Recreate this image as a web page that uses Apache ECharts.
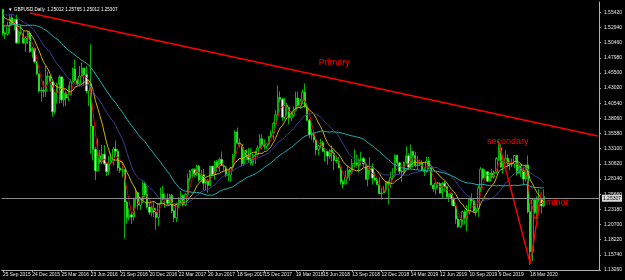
<!DOCTYPE html>
<html>
<head>
<meta charset="utf-8">
<script src="https://cdn.jsdelivr.net/npm/echarts@6/dist/echarts.min.js"></script>
<style>html,body{margin:0;padding:0;background:#000;}#c{width:625px;height:280px;}</style>
</head>
<body>
<div id="c"></div>
<script>
// Weekly GBPUSD bars (week 0 = week of 21 Sep 2015)
const opens = [1.5590,1.5195,1.5185,1.5325,1.5455,1.5345,1.5425,1.5045,1.5225,1.5190,1.5040,1.5125,1.5205,1.4900,1.4950,1.4735,1.4535,1.4255,1.4265,1.4250,1.4500,1.4495,1.4400,1.3915,1.4225,1.4365,1.4485,1.4110,1.4215,1.4140,1.4195,1.4405,1.4615,1.4430,1.4370,1.4500,1.4630,1.4525,1.4255,1.4370,1.3680,1.3300,1.2950,1.3195,1.3095,1.3220,1.3065,1.2935,1.3080,1.3120,1.3305,1.3270,1.2995,1.2960,1.2970,1.2435,1.2185,1.2230,1.2195,1.2485,1.2590,1.2385,1.2475,1.2745,1.2560,1.2355,1.2270,1.2340,1.2275,1.2185,1.2410,1.2570,1.2485,1.2485,1.2410,1.2545,1.2295,1.2180,1.2395,1.2475,1.2545,1.2395,1.2565,1.2825,1.2945,1.2970,1.2885,1.3025,1.2800,1.2885,1.2745,1.2785,1.2710,1.3025,1.2885,1.3095,1.2995,1.3135,1.3035,1.3015,1.2875,1.2880,1.3000,1.3200,1.3585,1.3405,1.3380,1.3065,1.3285,1.3195,1.3135,1.3080,1.3190,1.3210,1.3325,1.3475,1.3380,1.3350,1.3390,1.3515,1.3565,1.3725,1.3865,1.4150,1.4120,1.3825,1.4020,1.3990,1.3815,1.3860,1.3930,1.4140,1.4015,1.4095,1.4235,1.4010,1.3775,1.3540,1.3535,1.3455,1.3295,1.3360,1.3410,1.3265,1.3265,1.3190,1.3285,1.3235,1.3120,1.3110,1.3000,1.2765,1.2735,1.2840,1.2960,1.2925,1.3070,1.3075,1.3030,1.3125,1.3150,1.3060,1.2810,1.2965,1.2985,1.2830,1.2800,1.2725,1.2575,1.2585,1.2630,1.2765,1.2740,1.2835,1.2875,1.3200,1.3080,1.2940,1.2935,1.3085,1.3195,1.3010,1.3265,1.3200,1.3035,1.3045,1.3075,1.2970,1.2940,1.3110,1.3005,1.2715,1.2655,1.2745,1.2740,1.2585,1.2745,1.2690,1.2525,1.2575,1.2495,1.2375,1.2160,1.2035,1.2145,1.2280,1.2160,1.2290,1.2480,1.2465,1.2290,1.2330,1.2670,1.2975,1.2830,1.2935,1.2780,1.2910,1.2845,1.2930,1.3150,1.3325,1.3010,1.3075,1.3155,1.3055,1.3075,1.3060,1.3200,1.2910,1.3045,1.2955,1.2815,1.3045,1.2280,1.1625,1.2475,1.2270,1.2505,1.2475,1.2375];
const closes = [1.5195,1.5185,1.5325,1.5455,1.5345,1.5425,1.5045,1.5225,1.5190,1.5040,1.5125,1.5205,1.4900,1.4950,1.4735,1.4535,1.4255,1.4265,1.4250,1.4500,1.4495,1.4400,1.3915,1.4225,1.4365,1.4485,1.4110,1.4215,1.4140,1.4195,1.4405,1.4615,1.4430,1.4370,1.4500,1.4630,1.4525,1.4255,1.4370,1.3680,1.3300,1.2950,1.3195,1.3095,1.3220,1.3065,1.2935,1.3080,1.3120,1.3305,1.3270,1.2995,1.2960,1.2970,1.2435,1.2185,1.2230,1.2195,1.2485,1.2590,1.2385,1.2475,1.2745,1.2560,1.2355,1.2270,1.2340,1.2275,1.2185,1.2410,1.2570,1.2485,1.2485,1.2410,1.2545,1.2295,1.2180,1.2395,1.2475,1.2545,1.2395,1.2565,1.2825,1.2945,1.2970,1.2885,1.3025,1.2800,1.2885,1.2745,1.2785,1.2710,1.3025,1.2885,1.3095,1.2995,1.3135,1.3035,1.3015,1.2875,1.2880,1.3000,1.3200,1.3585,1.3405,1.3380,1.3065,1.3285,1.3195,1.3135,1.3080,1.3190,1.3210,1.3325,1.3475,1.3380,1.3350,1.3390,1.3515,1.3565,1.3725,1.3865,1.4150,1.4120,1.3825,1.4020,1.3990,1.3815,1.3860,1.3930,1.4140,1.4015,1.4095,1.4235,1.4010,1.3775,1.3540,1.3535,1.3455,1.3295,1.3360,1.3410,1.3265,1.3265,1.3190,1.3285,1.3235,1.3120,1.3110,1.3000,1.2765,1.2735,1.2840,1.2960,1.2925,1.3070,1.3075,1.3030,1.3125,1.3150,1.3060,1.2810,1.2965,1.2985,1.2830,1.2800,1.2725,1.2575,1.2585,1.2630,1.2765,1.2740,1.2835,1.2875,1.3200,1.3080,1.2940,1.2935,1.3085,1.3195,1.3010,1.3265,1.3200,1.3035,1.3045,1.3075,1.2970,1.2940,1.3110,1.3005,1.2715,1.2655,1.2745,1.2740,1.2585,1.2745,1.2690,1.2525,1.2575,1.2495,1.2375,1.2160,1.2035,1.2145,1.2280,1.2160,1.2290,1.2480,1.2465,1.2290,1.2330,1.2670,1.2975,1.2830,1.2935,1.2780,1.2910,1.2845,1.2930,1.3150,1.3325,1.3010,1.3075,1.3155,1.3055,1.3075,1.3060,1.3200,1.2910,1.3045,1.2955,1.2815,1.3045,1.2280,1.1625,1.2475,1.2270,1.2505,1.2475,1.2375,1.2531];
const lows = [1.5160,1.5107,1.5160,1.5185,1.5330,1.5245,1.5025,1.5025,1.5175,1.5025,1.4895,1.5020,1.4880,1.4800,1.4705,1.4520,1.4230,1.4080,1.4150,1.4160,1.4350,1.4245,1.3835,1.3880,1.4055,1.4050,1.4060,1.4000,1.4005,1.4090,1.4185,1.4375,1.4405,1.4330,1.4330,1.4475,1.4350,1.4215,1.4010,1.3230,1.3120,1.2800,1.2935,1.3060,1.3055,1.3045,1.2865,1.2885,1.3060,1.3035,1.3185,1.2945,1.2915,1.2850,1.1840,1.2085,1.2140,1.2080,1.2130,1.2340,1.2315,1.2305,1.2420,1.2510,1.2330,1.2225,1.2200,1.2195,1.1985,1.2050,1.2395,1.2465,1.2345,1.2385,1.2375,1.2255,1.2110,1.2110,1.2340,1.2375,1.2365,1.2370,1.2510,1.2775,1.2845,1.2840,1.2860,1.2770,1.2770,1.2635,1.2635,1.2590,1.2695,1.2870,1.2810,1.2930,1.2935,1.3030,1.2955,1.2845,1.2775,1.2775,1.2950,1.3125,1.3385,1.3340,1.3025,1.3030,1.3120,1.3075,1.3040,1.3040,1.3060,1.3180,1.3315,1.3300,1.3300,1.3305,1.3365,1.3485,1.3460,1.3700,1.3850,1.4065,1.3765,1.3795,1.3855,1.3710,1.3765,1.3830,1.3920,1.4000,1.3965,1.4035,1.3975,1.3765,1.3485,1.3460,1.3410,1.3205,1.3205,1.3315,1.3255,1.3100,1.3050,1.3145,1.3105,1.2955,1.3075,1.2990,1.2725,1.2660,1.2725,1.2805,1.2785,1.2890,1.3010,1.3000,1.2920,1.3040,1.3015,1.2800,1.2695,1.2880,1.2725,1.2770,1.2715,1.2565,1.2475,1.2580,1.2605,1.2400,1.2670,1.2800,1.2850,1.3045,1.2895,1.2770,1.2875,1.3060,1.2960,1.2980,1.3005,1.3005,1.2975,1.3025,1.2960,1.2865,1.2920,1.2975,1.2705,1.2605,1.2560,1.2660,1.2575,1.2505,1.2610,1.2505,1.2440,1.2380,1.2370,1.2080,1.2015,1.2015,1.2065,1.2070,1.1960,1.2235,1.2410,1.2270,1.2205,1.2195,1.2600,1.2800,1.2825,1.2770,1.2770,1.2820,1.2820,1.2895,1.3110,1.2995,1.2905,1.3070,1.3010,1.2955,1.3010,1.2990,1.2870,1.2905,1.2850,1.2725,1.2775,1.2250,1.1409,1.1475,1.2245,1.2165,1.2440,1.2250,1.2350];
const highs = [1.5600,1.5230,1.5385,1.5510,1.5510,1.5440,1.5505,1.5245,1.5335,1.5245,1.5150,1.5240,1.5240,1.4975,1.4965,1.4745,1.4540,1.4315,1.4425,1.4665,1.4570,1.4510,1.4410,1.4245,1.4390,1.4515,1.4495,1.4460,1.4245,1.4345,1.4445,1.4640,1.4770,1.4470,1.4665,1.4720,1.4630,1.4660,1.4395,1.5020,1.3535,1.3335,1.3480,1.3290,1.3370,1.3370,1.3070,1.3190,1.3240,1.3340,1.3445,1.3305,1.3095,1.3060,1.2970,1.2460,1.2335,1.2280,1.2510,1.2670,1.2600,1.2515,1.2775,1.2775,1.2705,1.2420,1.2370,1.2435,1.2345,1.2415,1.2675,1.2705,1.2580,1.2580,1.2570,1.2570,1.2320,1.2430,1.2520,1.2615,1.2565,1.2590,1.2905,1.2965,1.2990,1.2990,1.3050,1.3045,1.2965,1.2980,1.2815,1.2815,1.3030,1.3030,1.3115,1.3125,1.3165,1.3265,1.3060,1.3030,1.2945,1.3015,1.3225,1.3615,1.3655,1.3480,1.3390,1.3340,1.3300,1.3320,1.3320,1.3225,1.3280,1.3365,1.3550,1.3545,1.3460,1.3405,1.3520,1.3610,1.3745,1.3945,1.4345,1.4250,1.4140,1.4145,1.4060,1.4000,1.3920,1.4005,1.4245,1.4245,1.4125,1.4280,1.4377,1.4055,1.3800,1.3630,1.3605,1.3475,1.3375,1.3475,1.3440,1.3315,1.3280,1.3300,1.3365,1.3260,1.3200,1.3175,1.3030,1.2800,1.2950,1.3045,1.2985,1.3145,1.3300,1.3215,1.3150,1.3260,1.3175,1.3090,1.3045,1.3175,1.3070,1.2925,1.2840,1.2840,1.2670,1.2705,1.2785,1.2790,1.2930,1.2990,1.3220,1.3215,1.3095,1.2965,1.3105,1.3350,1.3235,1.3380,1.3280,1.3260,1.3195,1.3130,1.3120,1.3010,1.3180,1.3175,1.3010,1.2725,1.2765,1.2765,1.2765,1.2765,1.2785,1.2705,1.2580,1.2580,1.2520,1.2380,1.2210,1.2165,1.2295,1.2310,1.2385,1.2505,1.2580,1.2500,1.2410,1.2710,1.3010,1.2990,1.2975,1.2940,1.2920,1.2985,1.2955,1.3175,1.3440,1.3380,1.3115,1.3285,1.3215,1.3120,1.3150,1.3205,1.3210,1.3070,1.3055,1.3000,1.3050,1.3200,1.2420,1.2485,1.2485,1.2530,1.2650,1.2480,1.2645];
// closes of the weeks before the first visible bar (only feed the moving averages)
const priorCloses = [1.5600,1.5620,1.5565,1.5350,1.5160,1.5180,1.4975,1.5065,1.5235,1.5390,1.5390,1.5435,1.5165,1.4880,1.4860,1.4925,1.4845,1.4885,1.4660,1.4960,1.5165,1.5335,1.5485,1.5650,1.5440,1.5285,1.5365,1.5565,1.5865,1.5750,1.5610,1.5500,1.5640,1.5535,1.5605,1.5510,1.5640,1.5700,1.5410,1.5355,1.5430,1.5465];
const maPeriods = [4, 10, 20, 40];
const maColors = ['#d80000', '#d2b400', '#3c3c90', '#1db3b3'];
const xTickDates = ['2015-09-25','2015-12-24','2016-03-25','2016-06-23','2016-09-21','2016-12-20','2017-03-22','2017-06-20','2017-09-18','2017-12-15','2018-03-19','2018-06-15','2018-09-13','2018-12-12','2019-03-14','2019-06-12','2019-09-10','2019-12-09','2020-03-18'];
const xTickLabels = ['25 Sep 2015','24 Dec 2015','25 Mar 2016','23 Jun 2016','21 Sep 2016','20 Dec 2016','22 Mar 2017','20 Jun 2017','18 Sep 2017','15 Dec 2017','19 Mar 2018','15 Jun 2018','13 Sep 2018','12 Dec 2018','14 Mar 2019','12 Jun 2019','10 Sep 2019','9 Dec 2019','18 Mar 2020'];
const yMin = 1.1326, yStep = 0.0248, yMax = 1.5711;
const lastPrice = 1.25307;
const titleText = '\u25BC GBPUSD,Daily  1.25012 1.25765 1.25012 1.25307';
// trend lines: [startWeek, startPrice, endWeek, endPrice]
const primaryLine = [12, 1.5531, 264, 1.3520];
const secondaryLine = [220, 1.3420, 234, 1.1430];
const minorLine = [234, 1.1430, 239, 1.2610];
const notes = [['Primary', 147, 1.4726], ['secondary', 224, 1.3428], ['minor', 246, 1.2425]];
const totalWeeks = 265;

const DAY = 86400000;
const start = Date.UTC(2015, 8, 21);
const cats = [];
for (let i = 0; i < totalWeeks; i++) {
  const d = new Date(start + i * 7 * DAY);
  cats.push(d.toISOString().slice(0, 10));
}
const labelAt = {};
xTickDates.forEach((s, k) => {
  const t = Date.parse(s + 'T00:00:00Z');
  labelAt[Math.floor((t - start) / (7 * DAY))] = xTickLabels[k];
});
const candles = opens.map((o, i) => [o, closes[i], lows[i], highs[i]]);
const allCloses = priorCloses.concat(closes);
function sma(p) {
  const out = [];
  for (let i = 0; i < closes.length; i++) {
    const j = i + priorCloses.length;
    let s = 0, n = 0;
    for (let k = Math.max(0, j - p + 1); k <= j; k++) { s += allCloses[k]; n++; }
    out.push(+(s / n).toFixed(5));
  }
  return out;
}
const lineSeg = (a, color, w) => [
  { coord: [cats[a[0]], a[1]], lineStyle: { color: color, width: w, type: 'solid' } },
  { coord: [cats[a[2]], a[3]] }
];

const chart = echarts.init(document.getElementById('c'), null, { renderer: 'canvas' });
const series = [{
  type: 'candlestick',
  data: candles,
  barWidth: '80%',
  itemStyle: { color: '#000000', color0: '#ffffff', borderColor: '#00ff00', borderColor0: '#00ff00', borderWidth: 0.7 },
  silent: true,
  z: 3,
  markLine: {
    silent: true, symbol: ['none', 'none'], animation: false,
    label: { show: false },
    data: [
      lineSeg(primaryLine, '#ff0000', 1.6),
      lineSeg(secondaryLine, '#ff0000', 1.4),
      lineSeg(minorLine, '#ff0000', 1.4),
      { yAxis: lastPrice, lineStyle: { color: '#8a8a8a', width: 1, type: 'solid' },
        label: { show: true, position: 'end', formatter: lastPrice.toFixed(5), color: '#000', backgroundColor: '#d8d8d8', fontSize: 5, fontFamily: 'Liberation Sans', padding: [1, 1], distance: 3 } }
    ]
  },
  markPoint: {
    silent: true, animation: false, symbol: 'rect', symbolSize: 1,
    itemStyle: { color: 'rgba(0,0,0,0)' },
    label: { show: true, position: 'inside', color: '#ff0000', fontSize: 9, fontFamily: 'Liberation Sans', formatter: p => p.name },
    data: notes.map(n => ({ name: n[0], coord: [cats[n[1]], n[2]] }))
  }
}];
maPeriods.forEach((p, k) => {
  series.push({
    type: 'line', data: sma(p), showSymbol: false, symbol: 'none', silent: true,
    lineStyle: { color: maColors[k], width: 1 }, z: 4
  });
});

chart.setOption({
  animation: false,
  backgroundColor: '#000000',
  title: { text: titleText, left: 3, top: 2, textStyle: { color: '#ffffff', fontSize: 4.6, fontWeight: 'normal', fontFamily: 'Liberation Sans' } },
  grid: { left: 0, right: 25, top: 2, bottom: 10 },
  xAxis: {
    type: 'category', data: cats, boundaryGap: true,
    axisLine: { show: true, lineStyle: { color: '#b0b0b0', width: 1 } },
    axisTick: { show: true, length: 2, interval: i => labelAt[i] !== undefined, alignWithLabel: true, lineStyle: { color: '#b0b0b0' } },
    axisLabel: { interval: i => labelAt[i] !== undefined, showMinLabel: true, hideOverlap: false, formatter: (v, i) => labelAt[i] || '', align: 'left', color: '#e8e8e8', fontSize: 4.9, fontFamily: 'Liberation Sans', margin: 2 },
    splitLine: { show: false }
  },
  yAxis: {
    type: 'value', position: 'right', min: yMin, max: yMax, interval: yStep, scale: true,
    axisLine: { show: true, lineStyle: { color: '#b0b0b0', width: 1 } },
    axisTick: { show: true, length: 2, lineStyle: { color: '#b0b0b0' } },
    axisLabel: { color: '#e8e8e8', fontSize: 5, fontFamily: 'Liberation Sans', margin: 5, showMinLabel: true, showMaxLabel: false, hideOverlap: false, formatter: v => v.toFixed(5) },
    splitLine: { show: false }
  },
  series: series
});
</script>
</body>
</html>
